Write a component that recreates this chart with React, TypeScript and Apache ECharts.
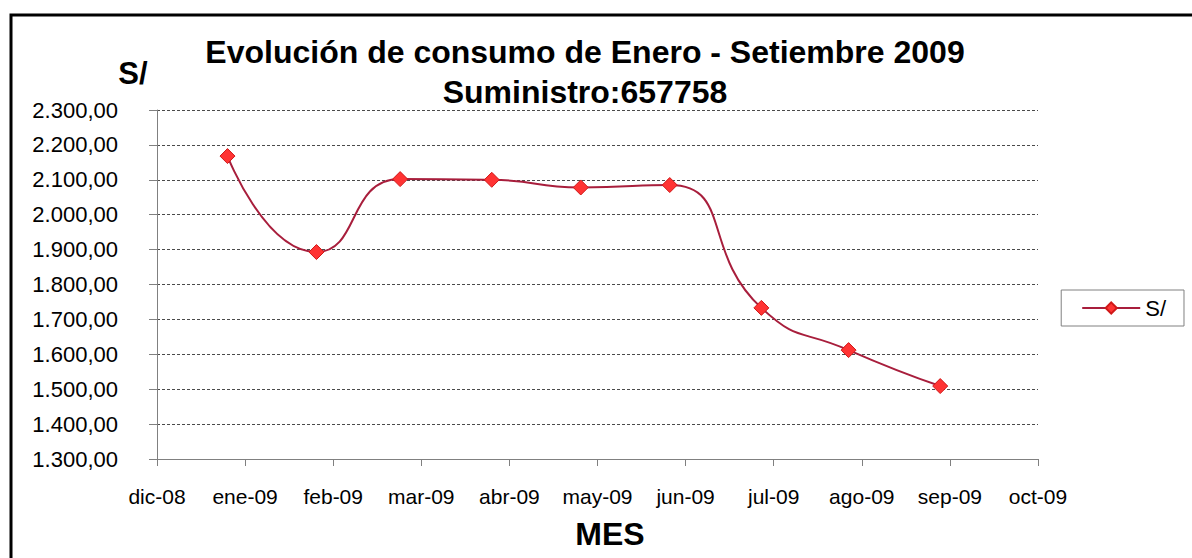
import React, { useEffect, useRef } from "react";
import * as echarts from "echarts";

const monthLabels = ["dic-08", "ene-09", "feb-09", "mar-09", "abr-09", "may-09", "jun-09", "jul-09", "ago-09", "sep-09", "oct-09"];
// reading dates expressed as months after 1-dic-08
const readingPos = [0.8, 1.81, 2.76, 3.8, 4.81, 5.82, 6.86, 7.85, 8.89];
const consumo = [2168, 1893, 2102, 2100, 2078, 2085, 1733, 1612, 1509];
const yTicks = { min: 1300, max: 2300, step: 100 };

function fmt(v: number): string {
  const fixed = v.toFixed(2);
  const [int, dec] = fixed.split(".");
  return int.replace(/\B(?=(\d{3})+(?!\d))/g, ".") + "," + dec;
}

export default function App() {
  const ref = useRef<HTMLDivElement>(null);
  useEffect(() => {
    if (!ref.current) return;
    const chart = echarts.init(ref.current, null, { renderer: "svg" });
    const font = "'Liberation Sans', Arial, sans-serif";
    chart.setOption({
      animation: false,
      backgroundColor: "#ffffff",
      textStyle: { fontFamily: font },
      grid: { left: 157, right: 154, top: 110, bottom: 99, containLabel: false },
      graphic: [
        {
          type: "rect",
          shape: { x: 11, y: 15, width: 1200, height: 600 },
          style: { fill: "none", stroke: "#000", lineWidth: 3 },
          silent: true,
        },
        {
          type: "text",
          x: 585,
          y: 52,
          style: {
            text: "Evolución de consumo de Enero - Setiembre 2009",
            font: `bold 32px ${font}`,
            fill: "#000",
            align: "center",
            verticalAlign: "middle",
          },
        },
        {
          type: "text",
          x: 585,
          y: 92,
          style: {
            text: "Suministro:657758",
            font: `bold 32px ${font}`,
            fill: "#000",
            align: "center",
            verticalAlign: "middle",
          },
        },
        {
          type: "text",
          x: 133,
          y: 73,
          style: {
            text: "S/",
            font: `bold 31px ${font}`,
            fill: "#000",
            align: "center",
            verticalAlign: "middle",
          },
        },
        {
          type: "text",
          x: 610,
          y: 534,
          style: {
            text: "MES",
            font: `bold 32px ${font}`,
            fill: "#000",
            align: "center",
            verticalAlign: "middle",
          },
        },
      ],
      legend: {
        orient: "vertical",
        right: 8,
        top: 290,
        data: ["S/"],
        borderColor: "#808080",
        borderWidth: 1,
        borderRadius: 0,
        padding: [7, 18, 7, 20],
        itemWidth: 58,
        itemHeight: 14,
        itemGap: 0,
        textStyle: { fontSize: 22, color: "#000", fontFamily: font },
      },
      xAxis: {
        type: "value",
        min: 0,
        max: 10,
        interval: 1,
        axisLine: { show: true, lineStyle: { color: "#808080", width: 1 } },
        axisTick: { show: true, inside: false, length: 7, lineStyle: { color: "#808080" } },
        splitLine: { show: false },
        axisLabel: {
          margin: 27,
          fontSize: 21,
          color: "#000",
          fontFamily: font,
          formatter: (v: number) => monthLabels[Math.round(v)] ?? "",
        },
      },
      yAxis: {
        type: "value",
        min: yTicks.min,
        max: yTicks.max,
        interval: yTicks.step,
        axisLine: { show: true, lineStyle: { color: "#808080", width: 1 } },
        axisTick: { show: true, inside: false, length: 8, lineStyle: { color: "#808080" } },
        splitLine: {
          show: true,
          lineStyle: { color: "#4a4a4a", width: 1, type: [3, 2] },
        },
        axisLabel: {
          margin: 39,
          fontSize: 22,
          color: "#000",
          fontFamily: font,
          formatter: (v: number) => fmt(v),
        },
      },
      series: [
        {
          name: "S/",
          type: "line",
          data: readingPos.map((x, i) => [x, consumo[i]]),
          smooth: 0.55,
          symbol: "diamond",
          symbolSize: 15,
          lineStyle: { color: "#A81E3C", width: 2 },
          itemStyle: { color: "#FF3333", borderColor: "#D01818", borderWidth: 1 },
        },
      ],
    });
    return () => chart.dispose();
  }, []);
  return (
    <div
      ref={ref}
      style={{ position: "absolute", left: 0, top: 0, width: 1192, height: 558 }}
    />
  );
}
